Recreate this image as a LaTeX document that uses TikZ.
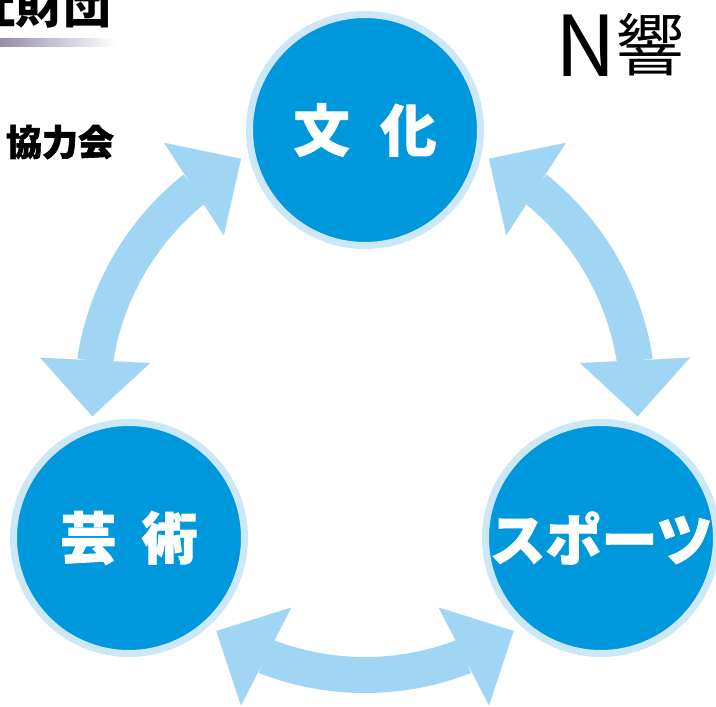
\documentclass[tikz,border=0pt]{standalone}
\usepackage{fontspec}
\newfontfamily\jpfont{Noto Sans CJK JP}
\newfontfamily\jpheavy{Noto Sans CJK JP}[BoldFeatures={FakeBold=1.6}]
\usetikzlibrary{arrows.meta,bending}

\definecolor{circblue}{RGB}{0,152,221}
\definecolor{ringblue}{RGB}{204,231,247}
\definecolor{arrowblue}{RGB}{160,213,243}
\definecolor{barpurple}{RGB}{150,140,172}

\tikzset{
  theme/.style={circle, fill=circblue, draw=ringblue, line width=7pt,
    minimum size=231pt, inner sep=0pt, text=white,
    font={\jpheavy\bfseries\fontsize{56}{56}\selectfont}},
  linkarrow/.style={draw=arrowblue, line width=36pt,
    arrows={Triangle[length=56pt,width=110pt,line width=0.1pt]-Triangle[length=56pt,width=110pt,line width=0.1pt]}},
}

\begin{document}
\begin{tikzpicture}[x=1pt,y=1pt]
\useasboundingbox (0,0) rectangle (716,-707);

% Header
\node[anchor=base west, inner sep=0pt, font={\jpfont\bfseries\fontsize{48}{48}\selectfont}] (zaidan) at (-33,-23) {社財団};
\shade[left color=barpurple, right color=white] (0,-38) rectangle (115,-46);
\node[inner sep=0pt, font={\jpheavy\bfseries\fontsize{36}{36}\selectfont}] (kyoryoku) at (60,-142) {協力会};
\node[anchor=base, inner sep=0pt, font={\jpfont\fontsize{68}{68}\selectfont}] (nkyo) at (620,-76) {{\fontsize{84}{84}\selectfont N}\raisebox{6pt}{響}};

% Circles
\node[theme] (bunka) at (365,-130) {文\hspace{0.55em}化};
\node[theme] (geijutsu) at (129,-538) {芸\hspace{0.45em}術};
\node[theme] (sports) at (601,-538) {スポーツ};

% Arrows
\coordinate (c) at (365,-402);
\coordinate (l1) at ([shift={(183:273)}]c);
\coordinate (r1) at ([shift={(63:273)}]c);
\coordinate (b1) at ([shift={(237:273)}]c);
\draw[linkarrow] (l1) arc[start angle=183, end angle=117, radius=273];
\draw[linkarrow] (r1) arc[start angle=63, end angle=-3, radius=273];
\draw[linkarrow] (b1) arc[start angle=237, end angle=303, radius=273];
\end{tikzpicture}
\end{document}
